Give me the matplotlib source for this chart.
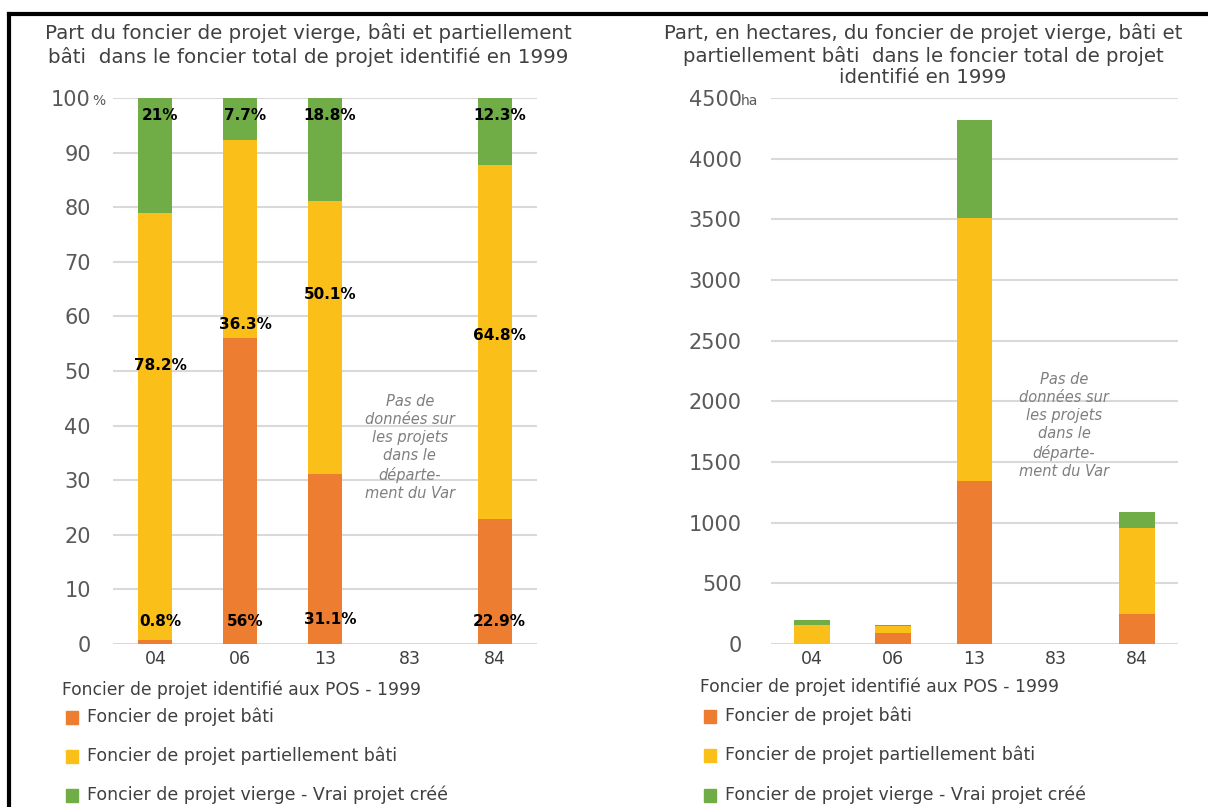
import matplotlib.pyplot as plt
import numpy as np

depts = ['04', '06', '13', '83', '84']

# parts en % (83 : pas de données)
pct_bati = [0.8, 56, 31.1, np.nan, 22.9]
pct_partiel = [78.2, 36.3, 50.1, np.nan, 64.8]
pct_vierge = [21, 7.7, 18.8, np.nan, 12.3]

# surfaces en hectares
ha_bati = [2, 90, 1343, 0, 250]
ha_partiel = [156, 58, 2164, 0, 706]
ha_vierge = [42, 12, 812, 0, 134]

# hauteur des étiquettes dans le graphique de gauche
lab_y_bati = [4.2, 4.2, 4.5, np.nan, 4.2]
lab_y_partiel = [51, 58.5, 64, np.nan, 56.5]
lab_y_vierge = [96.8, 96.8, 96.8, np.nan, 96.8]

C_BATI = '#ED7D31'
C_PARTIEL = '#FBBF1A'
C_VIERGE = '#70AD47'
GRID = '#D9D9D9'
TXT = '#404040'
TICK = '#595959'

noms = ['Foncier de projet bâti', 'Foncier de projet partiellement bâti',
        'Foncier de projet vierge - Vrai projet créé']
note = 'Pas de\ndonnées sur\nles projets\ndans le\ndéparte-\nment du Var'

plt.rcParams['font.family'] = 'DejaVu Sans'

fig = plt.figure(figsize=(12.08, 8.07), dpi=100)
W, H = 1208, 807


def box(l, t, r, b):
    return [l / W, 1 - b / H, (r - l) / W, (b - t) / H]


ax1 = fig.add_axes(box(113, 98, 537, 644))
ax2 = fig.add_axes(box(771, 98, 1178, 644))

x = np.arange(len(depts))


def style(ax, ymax, step, pad):
    ax.set_xlim(-0.5, len(depts) - 0.5)
    ax.set_ylim(0, ymax)
    ax.set_yticks(np.arange(0, ymax + step, step))
    ax.grid(axis='y', color=GRID, linewidth=1.5)
    ax.set_axisbelow(True)
    for s in ax.spines.values():
        s.set_visible(False)
    ax.tick_params(length=0)
    ax.tick_params(axis='y', labelsize=15, labelcolor=TICK, pad=pad)
    ax.tick_params(axis='x', labelsize=12.5, labelcolor=TXT, pad=4)
    ax.set_xticks(x)
    ax.set_xticklabels(depts)


# --- gauche : en %
b1 = np.nan_to_num(pct_bati)
b2 = np.nan_to_num(pct_partiel)
b3 = np.nan_to_num(pct_vierge)
ax1.bar(x, b1, 0.4, color=C_BATI)
ax1.bar(x, b2, 0.4, bottom=b1, color=C_PARTIEL)
ax1.bar(x, b3, 0.4, bottom=b1 + b2, color=C_VIERGE)
style(ax1, 100, 10, 16)
for i in range(len(depts)):
    if np.isnan(pct_bati[i]):
        continue
    for v, yy in [(pct_bati[i], lab_y_bati[i]), (pct_partiel[i], lab_y_partiel[i]),
                  (pct_vierge[i], lab_y_vierge[i])]:
        ax1.text(x[i] + 0.06, yy, f'{v:g}%', ha='center', va='center', fontsize=11,
                 fontweight='bold', color='black')
ax1.text(3, 36, note, ha='center', va='center', fontsize=10.5, style='italic',
         color='#7F7F7F', linespacing=1.25)
ax1.text(-0.048, 0.995, '%', transform=ax1.transAxes, fontsize=10, color=TICK,
         va='center', ha='left')

# --- droite : en hectares
h1 = np.array(ha_bati)
h2 = np.array(ha_partiel)
h3 = np.array(ha_vierge)
ax2.bar(x, h1, 0.44, color=C_BATI)
ax2.bar(x, h2, 0.44, bottom=h1, color=C_PARTIEL)
ax2.bar(x, h3, 0.44, bottom=h1 + h2, color=C_VIERGE)
style(ax2, 4500, 500, 21)
ax2.text(3.1, 1800, note, ha='center', va='center', fontsize=10.5, style='italic',
         color='#7F7F7F', linespacing=1.25)
ax2.text(-0.074, 0.995, 'ha', transform=ax2.transAxes, fontsize=10, color=TICK,
         va='center', ha='left')

# titres
fig.text(308 / W, 1 - 45 / H, 'Part du foncier de projet vierge, bâti et partiellement\n'
         'bâti  dans le foncier total de projet identifié en 1999',
         ha='center', va='center', fontsize=14.3, color=TXT, linespacing=1.2)
fig.text(923 / W, 1 - 55 / H, 'Part, en hectares, du foncier de projet vierge, bâti et\n'
         'partiellement bâti  dans le foncier total de projet\nidentifié en 1999',
         ha='center', va='center', fontsize=14.2, color=TXT, linespacing=1.15)

# légendes
cols = [C_BATI, C_PARTIEL, C_VIERGE]
for x0, ys, ty in [(62, [717, 756, 795], 690), (700, [716, 755, 795], 687)]:
    fig.text(x0 / W, 1 - ty / H, 'Foncier de projet identifié aux POS - 1999',
             fontsize=12.3, color=TXT, va='center', ha='left')
    for c, n, yy in zip(cols, noms, ys):
        fig.patches.append(plt.Rectangle(((x0 + 4) / W, 1 - (yy + 7) / H), 12 / W, 13 / H,
                                         color=c, transform=fig.transFigure))
        fig.text((x0 + 25) / W, 1 - yy / H, n, fontsize=12.5, color=TXT,
                 va='center', ha='left')

# cadre noir
fig.add_artist(plt.Line2D([9 / W, 1], [1 - 14 / H] * 2, color='black', lw=3,
                          transform=fig.transFigure))
fig.add_artist(plt.Line2D([9 / W] * 2, [0, 1 - 14 / H], color='black', lw=3,
                          transform=fig.transFigure))

fig.savefig('out.png', dpi=100, facecolor='white')
